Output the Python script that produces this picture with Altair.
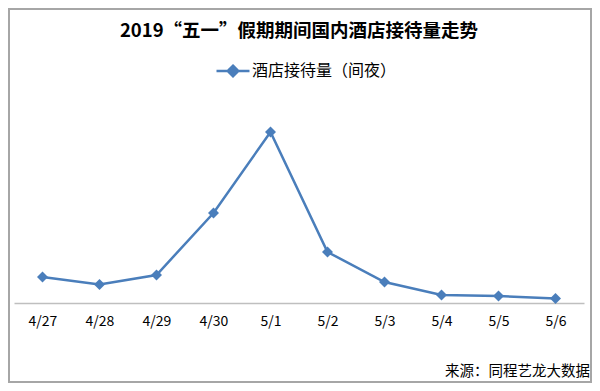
import altair as alt
import pandas as pd

dates = ["4/27", "4/28", "4/29", "4/30", "5/1", "5/2", "5/3", "5/4", "5/5", "5/6"]
values = [26, 18.5, 28, 90, 171, 51, 21, 8, 7, 4.5]
series_name = "酒店接待量（间夜）"
title_text = "2019“五一”假期期间国内酒店接待量走势"
source_text = ["来源：同程艺龙大数据"]

FONT = "Noto Sans CJK SC"
BLUE = "#4a7ebb"

df = pd.DataFrame({"date": dates, "value": values, "series": [series_name] * len(dates)})

legend_symbol = "M-1,0H1M0,-0.32L0.32,0L0,0.32L-0.32,0Z"

line = alt.Chart(df).mark_line(
    strokeWidth=2.5,
    point=alt.OverlayMarkDef(shape="diamond", size=120, filled=True, color=BLUE),
).encode(
    x=alt.X("date:N", sort=dates, scale=alt.Scale(type="point", padding=0.5),
            axis=alt.Axis(title=None, labelAngle=0, ticks=False, labelPadding=11,
                          labelFont=FONT, labelFontSize=14, labelColor="#000000",
                          domainColor="#bfbfbf", domainWidth=1.5, grid=False)),
    y=alt.Y("value:Q", scale=alt.Scale(domain=[0, 200], nice=False, zero=True), axis=None),
    color=alt.Color("series:N", scale=alt.Scale(range=[BLUE]),
                    legend=alt.Legend(title=None, orient="none", legendX=201, legendY=-50,
                                      symbolType=legend_symbol, symbolSize=1089,
                                      symbolStrokeWidth=2.5, symbolFillColor=BLUE,
                                      symbolStrokeColor=BLUE, labelFont=FONT,
                                      labelFontSize=16, labelColor="#000000",
                                      labelOffset=1, padding=0)),
)

src_df = pd.DataFrame({"text": source_text})
source = alt.Chart(src_df).mark_text(
    align="right", baseline="middle", font=FONT, fontSize=14.5, color="#000000"
).encode(x=alt.value(576), y=alt.value(269), text="text:N")

border = alt.Chart(pd.DataFrame({"a": [0]})).mark_rect(
    fill="transparent", stroke="#a6a6a6", strokeWidth=2
).encode(x=alt.value(-5), x2=alt.value(577), y=alt.value(-94), y2=alt.value(279))

chart = alt.layer(line, source, border).properties(
    width=570,
    height=200,
    padding={"left": 6, "right": 8, "top": 95, "bottom": 80},
    autosize=alt.AutoSizeParams(type="none"),
    title=alt.TitleParams(title_text, font=FONT, fontSize=18.5, fontWeight="bold",
                          color="#000000", anchor="middle", baseline="alphabetic",
                          offset=-47),
    background="white",
).configure_view(stroke=None)

chart.save("out.html", embed_options={"renderer": "svg", "actions": False})
